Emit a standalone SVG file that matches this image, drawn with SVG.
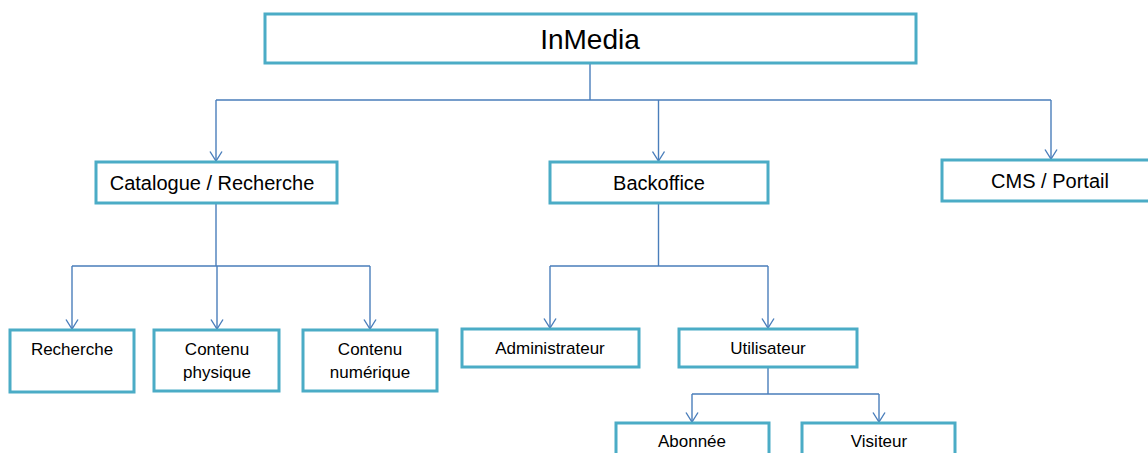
<svg xmlns="http://www.w3.org/2000/svg" width="1148" height="453" viewBox="0 0 1148 453">
<defs>
<marker id="arr" viewBox="0 0 12 14" refX="11" refY="7" markerWidth="12" markerHeight="14" markerUnits="userSpaceOnUse" orient="auto">
<path d="M1.5,1 L11,7 L1.5,13" fill="none" stroke="#4A7EBB" stroke-width="1.4"/>
</marker>
</defs>
<style>
.box{fill:#fff;stroke:#4BACC6;stroke-width:3}
.c{fill:none;stroke:#4A7EBB;stroke-width:1.4}
.t{font-family:"Liberation Sans",Arial,sans-serif;fill:#000;text-anchor:middle}
</style>
<rect width="1148" height="453" fill="#fff"/>
<g id="connectors">
<path class="c" d="M590,64 V100 M216,100 H1051"/>
<path class="c" d="M216,100 V161" marker-end="url(#arr)"/>
<path class="c" d="M658.5,100 V161" marker-end="url(#arr)"/>
<path class="c" d="M1051,100 V159" marker-end="url(#arr)"/>
<path class="c" d="M216,203 V266 M72,266 H370"/>
<path class="c" d="M72,266 V329" marker-end="url(#arr)"/>
<path class="c" d="M217,266 V329" marker-end="url(#arr)"/>
<path class="c" d="M370,266 V329" marker-end="url(#arr)"/>
<path class="c" d="M658.5,203 V266 M550,266 H768"/>
<path class="c" d="M550,266 V328" marker-end="url(#arr)"/>
<path class="c" d="M768,266 V328" marker-end="url(#arr)"/>
<path class="c" d="M768,367 V394 M692,394 H879"/>
<path class="c" d="M692,394 V422" marker-end="url(#arr)"/>
<path class="c" d="M879,394 V422" marker-end="url(#arr)"/>
</g>
<g id="inmedia">
<rect class="box" x="265" y="14" width="651" height="49"/>
<text class="t" x="590" y="49" font-size="28">InMedia</text>
</g>
<g id="catalogue">
<rect class="box" x="96" y="162" width="241" height="41"/>
<text class="t" x="212" y="190" font-size="20">Catalogue / Recherche</text>
</g>
<g id="backoffice">
<rect class="box" x="550" y="162" width="218" height="41"/>
<text class="t" x="659" y="190" font-size="20">Backoffice</text>
</g>
<g id="cms">
<rect class="box" x="942" y="160" width="220" height="41"/>
<text class="t" x="1050" y="188" font-size="20">CMS / Portail</text>
</g>
<g id="recherche">
<rect class="box" x="10" y="330" width="124" height="62"/>
<text class="t" x="72" y="355" font-size="17">Recherche</text>
</g>
<g id="contenu-physique">
<rect class="box" x="154" y="330" width="125" height="61"/>
<text class="t" x="217" y="355" font-size="17">Contenu</text>
<text class="t" x="217" y="378" font-size="17">physique</text>
</g>
<g id="contenu-numerique">
<rect class="box" x="303" y="330" width="134" height="61"/>
<text class="t" x="370" y="355" font-size="17">Contenu</text>
<text class="t" x="370" y="378" font-size="17">numérique</text>
</g>
<g id="administrateur">
<rect class="box" x="462" y="329" width="177" height="38"/>
<text class="t" x="550" y="354" font-size="17">Administrateur</text>
</g>
<g id="utilisateur">
<rect class="box" x="679" y="329" width="178" height="38"/>
<text class="t" x="768" y="354" font-size="17">Utilisateur</text>
</g>
<g id="abonnee">
<rect class="box" x="616" y="423" width="153" height="40"/>
<text class="t" x="692" y="447" font-size="17">Abonnée</text>
</g>
<g id="visiteur">
<rect class="box" x="802" y="423" width="153" height="40"/>
<text class="t" x="879" y="447" font-size="17">Visiteur</text>
</g>
</svg>
